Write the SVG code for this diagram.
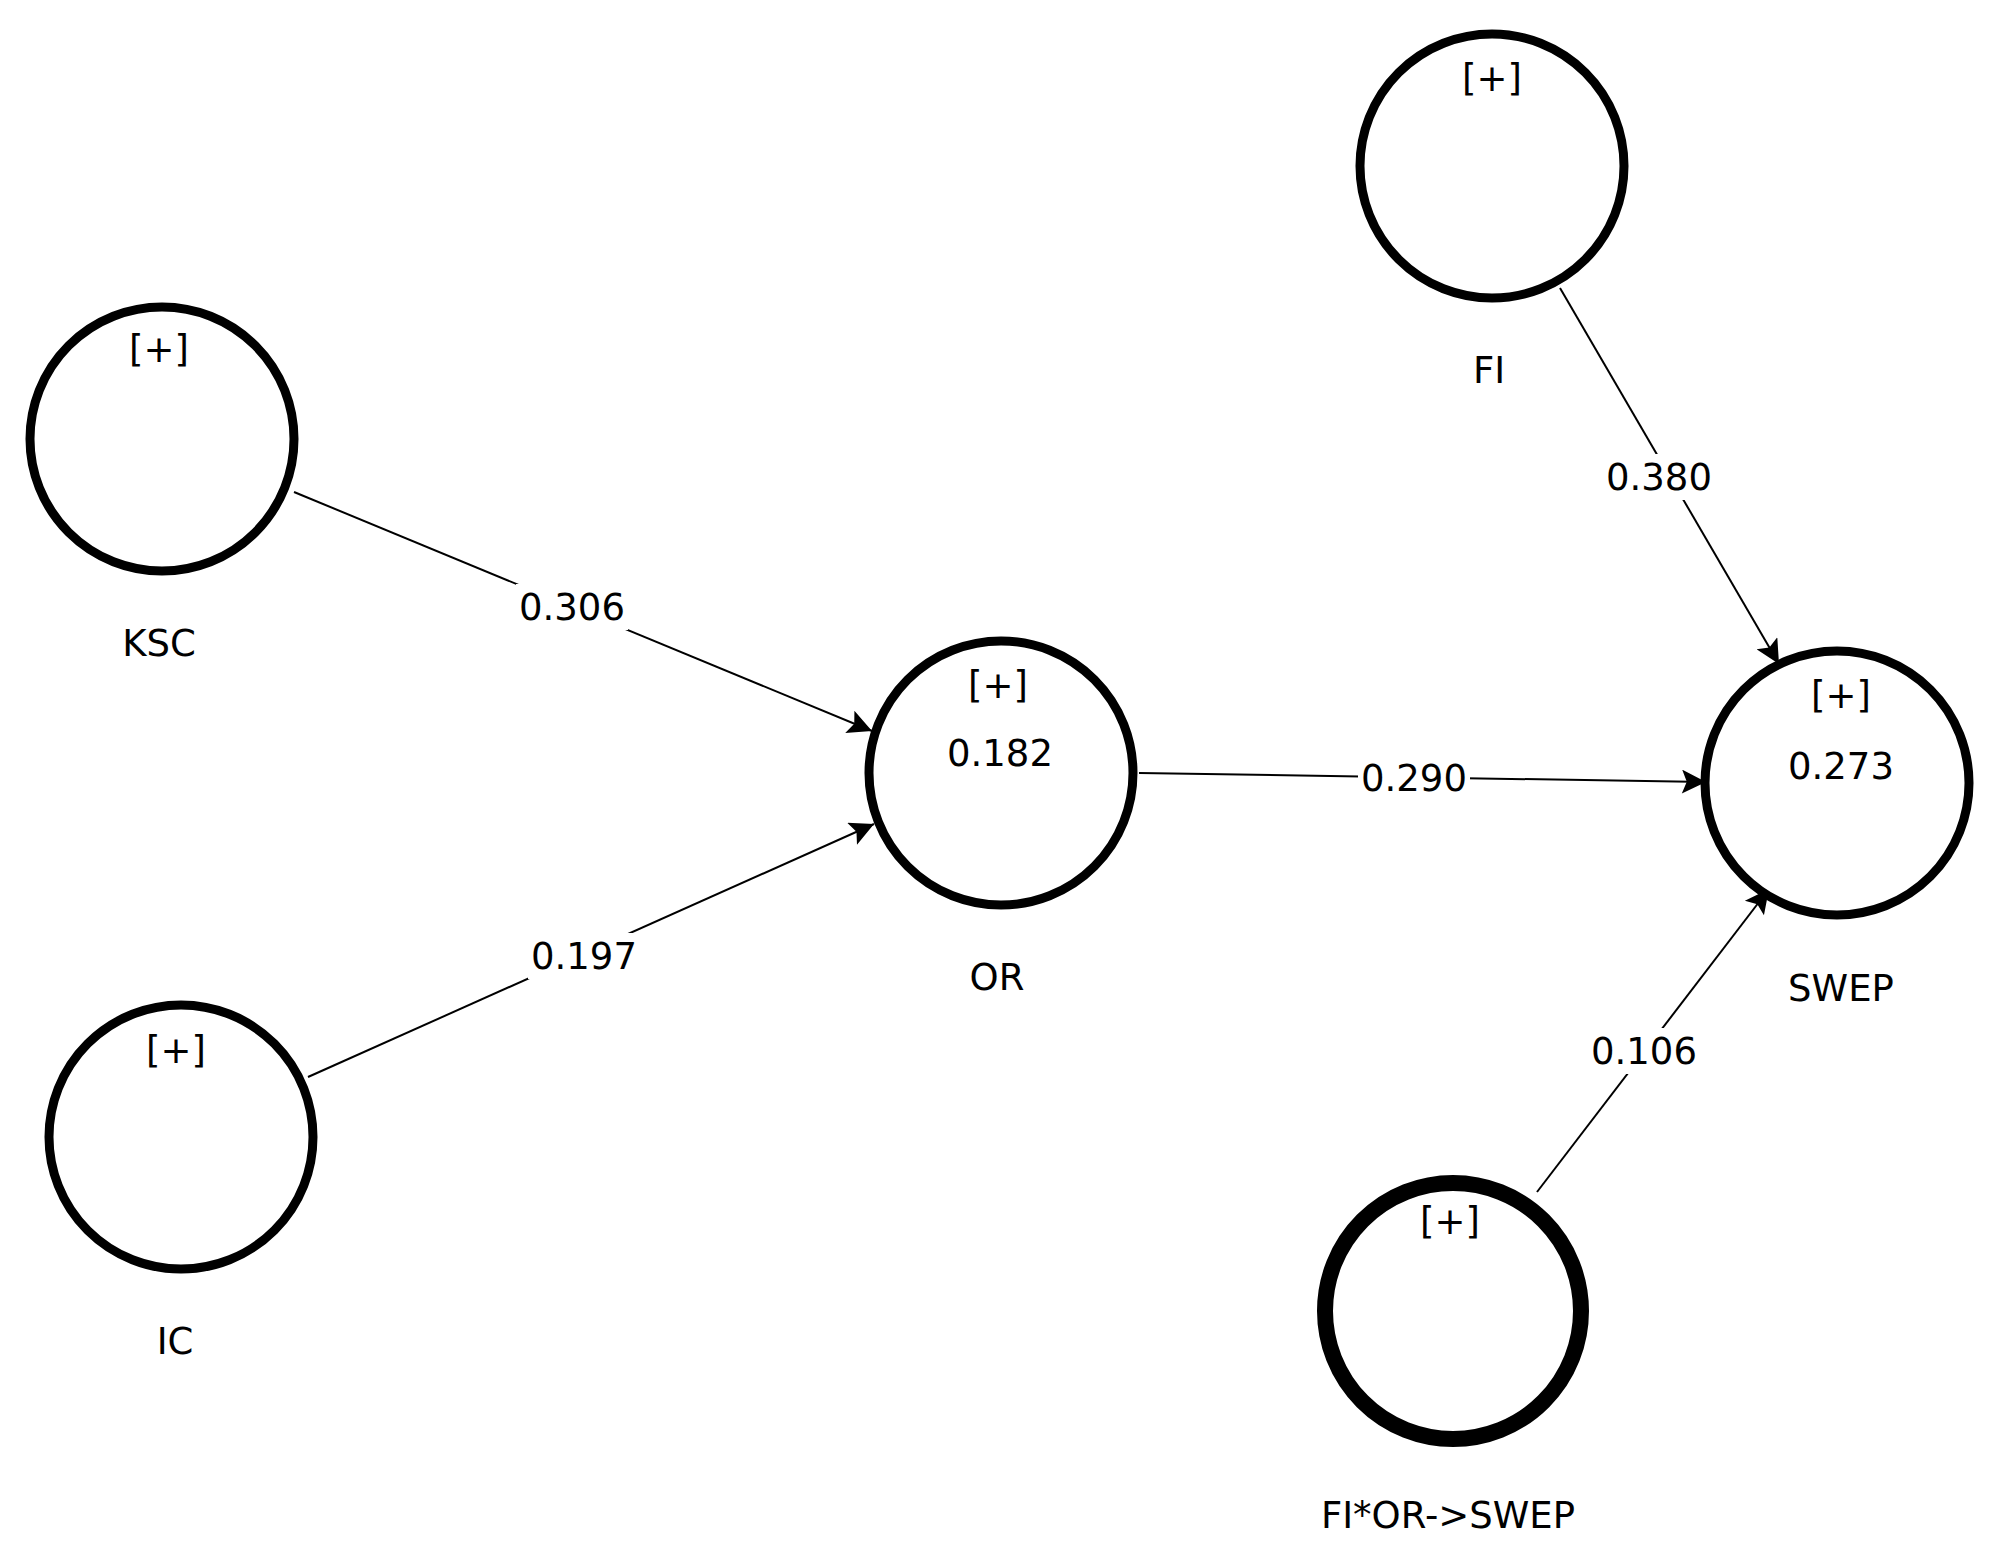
<svg xmlns="http://www.w3.org/2000/svg" width="2014" height="1562" viewBox="0 0 2014 1562">
<style>
.n{fill:#fff;stroke:#000;stroke-width:9}
.thick{stroke-width:16}
.t{font-family:"DejaVu Sans",Verdana,sans-serif;font-size:37px;text-anchor:middle;dominant-baseline:central;fill:#000}
.e{stroke:#000;stroke-width:2;fill:none;marker-end:url(#a)}
.lb{fill:#fff}
</style>
<defs><marker id="a" viewBox="0 0 10 10" refX="10" refY="5" markerWidth="28" markerHeight="24" markerUnits="userSpaceOnUse" orient="auto"><path d="M0,0L10,5L0,10L2,5z" fill="#000"/></marker></defs>
<rect width="2014" height="1562" fill="#fff"/>
<g transform="translate(-6,-2)">
<g id="connectors">
<line class="e" x1="300" y1="494" x2="878" y2="733"/>
<line class="e" x1="314" y1="1079" x2="880" y2="826"/>
<line class="e" x1="1145" y1="775" x2="1712" y2="784"/>
<line class="e" x1="1566" y1="290" x2="1785" y2="666"/>
<line class="e" x1="1543" y1="1194" x2="1775" y2="891"/>
<rect class="lb" x="522" y="586" width="112" height="46"/><text class="t" x="578" y="609">0.306</text>
<rect class="lb" x="534" y="935" width="112" height="46"/><text class="t" x="590" y="958">0.197</text>
<rect class="lb" x="1364" y="757" width="112" height="46"/><text class="t" x="1420" y="780">0.290</text>
<rect class="lb" x="1609" y="456" width="112" height="46"/><text class="t" x="1665" y="479">0.380</text>
<rect class="lb" x="1594" y="1030" width="112" height="46"/><text class="t" x="1650" y="1053">0.106</text>
</g>
<g id="KSC"><circle class="n" cx="168" cy="441" r="132"/><text class="t" x="165" y="351">[+]</text><text class="t" x="165" y="645">KSC</text></g>
<g id="IC"><circle class="n" cx="187" cy="1139" r="132"/><text class="t" x="182" y="1052">[+]</text><text class="t" x="181" y="1343">IC</text></g>
<g id="OR"><circle class="n" cx="1007" cy="775" r="132"/><text class="t" x="1004" y="687">[+]</text><text class="t" x="1006" y="755">0.182</text><text class="t" x="1003" y="979">OR</text></g>
<g id="SWEP"><circle class="n" cx="1843" cy="785" r="132"/><text class="t" x="1847" y="697">[+]</text><text class="t" x="1847" y="768">0.273</text><text class="t" x="1847" y="990">SWEP</text></g>
<g id="FI"><circle class="n" cx="1498" cy="168" r="132"/><text class="t" x="1498" y="80">[+]</text><text class="t" x="1495" y="372">FI</text></g>
<g id="FIxOR"><circle class="n thick" cx="1459" cy="1313" r="128"/><text class="t" x="1456" y="1223">[+]</text><text class="t" x="1454" y="1517">FI*OR-&gt;SWEP</text></g>
</g>
</svg>
